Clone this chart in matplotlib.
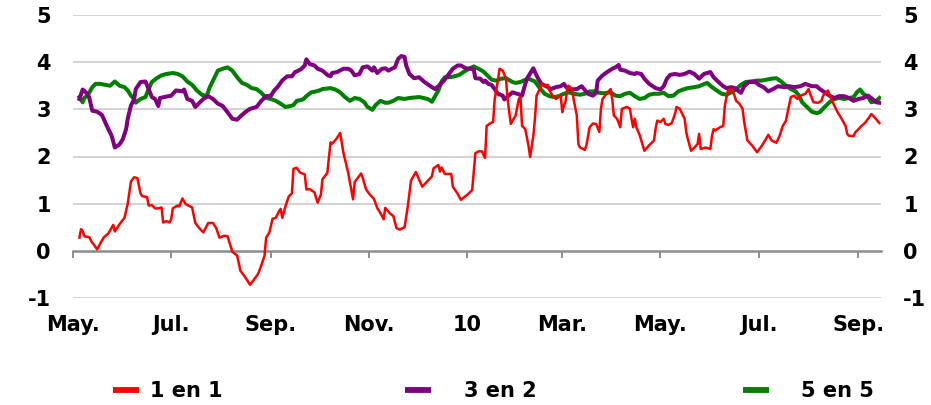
import matplotlib
matplotlib.use("Agg")
import matplotlib.pyplot as plt
from matplotlib.lines import Line2D
import pandas as pd

plt.rcParams["font.family"] = ["DejaVu Sans"]
plt.rcParams["font.weight"] = "bold"
plt.rcParams["axes.unicode_minus"] = False

# ---- data -------------------------------------------------------------
red_dates = [
    "2009-05-05", "2009-05-06", "2009-05-07", "2009-05-08", "2009-05-11", "2009-05-13", "2009-05-14",
    "2009-05-16", "2009-05-18", "2009-05-20", "2009-05-23", "2009-05-26", "2009-05-27", "2009-05-30",
    "2009-06-02", "2009-06-04", "2009-06-06", "2009-06-08", "2009-06-10", "2009-06-12", "2009-06-13",
    "2009-06-16", "2009-06-17", "2009-06-19", "2009-06-21", "2009-06-23", "2009-06-25", "2009-06-26",
    "2009-06-28", "2009-06-30", "2009-07-01", "2009-07-02", "2009-07-05", "2009-07-06", "2009-07-08",
    "2009-07-10", "2009-07-14", "2009-07-16", "2009-07-19", "2009-07-21", "2009-07-24", "2009-07-27",
    "2009-07-29", "2009-07-31", "2009-08-03", "2009-08-05", "2009-08-08", "2009-08-11", "2009-08-13",
    "2009-08-16", "2009-08-19", "2009-08-21", "2009-08-24", "2009-08-26", "2009-08-28", "2009-08-29",
    "2009-08-31", "2009-09-02", "2009-09-04", "2009-09-06", "2009-09-07", "2009-09-08", "2009-09-10",
    "2009-09-12", "2009-09-14", "2009-09-15", "2009-09-17", "2009-09-19", "2009-09-22", "2009-09-23",
    "2009-09-25", "2009-09-28", "2009-09-30", "2009-10-02", "2009-10-03", "2009-10-06", "2009-10-08",
    "2009-10-09", "2009-10-12", "2009-10-14", "2009-10-16", "2009-10-19", "2009-10-22", "2009-10-23",
    "2009-10-27", "2009-10-28", "2009-10-30", "2009-11-01", "2009-11-04", "2009-11-06", "2009-11-08",
    "2009-11-10", "2009-11-11", "2009-11-14", "2009-11-16", "2009-11-18", "2009-11-20", "2009-11-23",
    "2009-11-25", "2009-11-27", "2009-11-30", "2009-12-04", "2009-12-07", "2009-12-10", "2009-12-11",
    "2009-12-14", "2009-12-15", "2009-12-16", "2009-12-18", "2009-12-22", "2009-12-23", "2009-12-26",
    "2009-12-28", "2010-01-01", "2010-01-04", "2010-01-06", "2010-01-08", "2010-01-10", "2010-01-12",
    "2010-01-13", "2010-01-16", "2010-01-17", "2010-01-18", "2010-01-20", "2010-01-21", "2010-01-23",
    "2010-01-25", "2010-01-26", "2010-01-28", "2010-01-31", "2010-02-02", "2010-02-03", "2010-02-04",
    "2010-02-06", "2010-02-08", "2010-02-09", "2010-02-11", "2010-02-12", "2010-02-13", "2010-02-15",
    "2010-02-16", "2010-02-18", "2010-02-20", "2010-02-21", "2010-02-23", "2010-02-25", "2010-02-28",
    "2010-03-01", "2010-03-02", "2010-03-03", "2010-03-04", "2010-03-05", "2010-03-07", "2010-03-08",
    "2010-03-10", "2010-03-11", "2010-03-12", "2010-03-15", "2010-03-16", "2010-03-18", "2010-03-20",
    "2010-03-22", "2010-03-24", "2010-03-25", "2010-03-26", "2010-03-29", "2010-03-31", "2010-04-01",
    "2010-04-02", "2010-04-04", "2010-04-06", "2010-04-07", "2010-04-10", "2010-04-12", "2010-04-13",
    "2010-04-14", "2010-04-15", "2010-04-16", "2010-04-18", "2010-04-21", "2010-04-24", "2010-04-27",
    "2010-04-28", "2010-04-29", "2010-05-01", "2010-05-03", "2010-05-04", "2010-05-06", "2010-05-08",
    "2010-05-10", "2010-05-11", "2010-05-13", "2010-05-16", "2010-05-17", "2010-05-18", "2010-05-20",
    "2010-05-22", "2010-05-24", "2010-05-25", "2010-05-26", "2010-05-29", "2010-06-01", "2010-06-02",
    "2010-06-03", "2010-06-04", "2010-06-07", "2010-06-09", "2010-06-10", "2010-06-11", "2010-06-12",
    "2010-06-14", "2010-06-16", "2010-06-17", "2010-06-19", "2010-06-21", "2010-06-22", "2010-06-24",
    "2010-06-27", "2010-06-30", "2010-07-03", "2010-07-05", "2010-07-07", "2010-07-09", "2010-07-12",
    "2010-07-14", "2010-07-16", "2010-07-18", "2010-07-19", "2010-07-21", "2010-07-23", "2010-07-25",
    "2010-07-27", "2010-07-30", "2010-08-01", "2010-08-02", "2010-08-04", "2010-08-07", "2010-08-09",
    "2010-08-10", "2010-08-13", "2010-08-15", "2010-08-17", "2010-08-19", "2010-08-21", "2010-08-24",
    "2010-08-25", "2010-08-26", "2010-08-29", "2010-08-30", "2010-09-01", "2010-09-03", "2010-09-05",
    "2010-09-07", "2010-09-09", "2010-09-11", "2010-09-14",
]
red_values = [
    0.28, 0.46, 0.42, 0.31, 0.29, 0.17, 0.13,
    0.03, 0.16, 0.28, 0.37, 0.55, 0.41, 0.57,
    0.70, 1.00, 1.47, 1.56, 1.54, 1.21, 1.16,
    1.14, 0.96, 0.97, 0.90, 0.90, 0.92, 0.60,
    0.63, 0.60, 0.67, 0.90, 0.96, 0.94, 1.11,
    0.99, 0.92, 0.59, 0.46, 0.39, 0.59, 0.59,
    0.48, 0.28, 0.32, 0.31, -0.02, -0.10, -0.42,
    -0.56, -0.72, -0.63, -0.49, -0.31, -0.10, 0.28,
    0.39, 0.68, 0.70, 0.84, 0.89, 0.70, 0.94,
    1.15, 1.22, 1.74, 1.76, 1.66, 1.62, 1.30,
    1.31, 1.24, 1.02, 1.19, 1.52, 1.65, 2.30,
    2.27, 2.39, 2.50, 2.08, 1.65, 1.09, 1.46,
    1.64, 1.55, 1.31, 1.21, 1.10, 0.91, 0.80,
    0.67, 0.91, 0.79, 0.74, 0.48, 0.45, 0.50,
    0.94, 1.49, 1.67, 1.36, 1.47, 1.58, 1.75,
    1.82, 1.68, 1.77, 1.63, 1.63, 1.36, 1.21,
    1.08, 1.19, 1.29, 2.07, 2.11, 2.11, 1.97,
    2.65, 2.72, 2.73, 3.22, 3.61, 3.86, 3.82,
    3.65, 3.22, 2.69, 2.87, 3.22, 3.26, 2.65,
    2.58, 2.23, 1.99, 2.44, 2.80, 3.29, 3.43,
    3.54, 3.49, 3.52, 3.40, 3.29, 3.22, 3.29,
    2.94, 3.08, 3.16, 3.43, 3.50, 3.43, 3.22,
    2.87, 2.26, 2.19, 2.14, 2.24, 2.62, 2.70,
    2.69, 2.52, 3.01, 3.22, 3.35, 3.43, 3.22,
    2.87, 2.80, 2.62, 3.01, 3.05, 3.01, 2.80,
    2.62, 2.80, 2.62, 2.46, 2.12, 2.24, 2.34,
    2.60, 2.76, 2.73, 2.80, 2.69, 2.67, 2.71,
    2.90, 3.05, 3.01, 2.80, 2.52, 2.37, 2.12,
    2.19, 2.26, 2.48, 2.16, 2.19, 2.16, 2.44,
    2.58, 2.55, 2.62, 2.65, 3.08, 3.26, 3.40,
    3.43, 3.29, 3.18, 3.12, 3.01, 2.73, 2.34,
    2.23, 2.09, 2.23, 2.34, 2.46, 2.34, 2.29,
    2.44, 2.65, 2.76, 2.94, 3.26, 3.29, 3.22,
    3.29, 3.33, 3.43, 3.33, 3.15, 3.14, 3.18,
    3.29, 3.40, 3.22, 3.08, 2.94, 2.83, 2.65,
    2.48, 2.44, 2.43, 2.51, 2.58, 2.65, 2.71,
    2.80, 2.90, 2.83, 2.71,
]

purple_dates = [
    "2009-05-05", "2009-05-07", "2009-05-09", "2009-05-11", "2009-05-13", "2009-05-16", "2009-05-19",
    "2009-05-22", "2009-05-24", "2009-05-25", "2009-05-27", "2009-05-30", "2009-06-01", "2009-06-03",
    "2009-06-04", "2009-06-06", "2009-06-08", "2009-06-09", "2009-06-12", "2009-06-15", "2009-06-17",
    "2009-06-19", "2009-06-21", "2009-06-23", "2009-06-24", "2009-06-28", "2009-07-01", "2009-07-04",
    "2009-07-08", "2009-07-09", "2009-07-11", "2009-07-14", "2009-07-16", "2009-07-18", "2009-07-21",
    "2009-07-24", "2009-07-27", "2009-07-30", "2009-08-02", "2009-08-05", "2009-08-08", "2009-08-11",
    "2009-08-13", "2009-08-16", "2009-08-19", "2009-08-23", "2009-08-26", "2009-08-29", "2009-09-01",
    "2009-09-03", "2009-09-05", "2009-09-08", "2009-09-11", "2009-09-14", "2009-09-16", "2009-09-18",
    "2009-09-20", "2009-09-22", "2009-09-23", "2009-09-25", "2009-09-28", "2009-09-30", "2009-10-03",
    "2009-10-06", "2009-10-08", "2009-10-09", "2009-10-12", "2009-10-16", "2009-10-19", "2009-10-21",
    "2009-10-23", "2009-10-26", "2009-10-28", "2009-10-31", "2009-11-03", "2009-11-04", "2009-11-06",
    "2009-11-09", "2009-11-11", "2009-11-13", "2009-11-15", "2009-11-17", "2009-11-19", "2009-11-21",
    "2009-11-23", "2009-11-24", "2009-11-26", "2009-11-29", "2009-12-02", "2009-12-05", "2009-12-07",
    "2009-12-10", "2009-12-12", "2009-12-14", "2009-12-17", "2009-12-19", "2009-12-23", "2009-12-26",
    "2009-12-28", "2009-12-31", "2010-01-03", "2010-01-05", "2010-01-06", "2010-01-09", "2010-01-11",
    "2010-01-12", "2010-01-14", "2010-01-16", "2010-01-18", "2010-01-20", "2010-01-23", "2010-01-24",
    "2010-01-28", "2010-01-29", "2010-02-01", "2010-02-04", "2010-02-05", "2010-02-07", "2010-02-11",
    "2010-02-12", "2010-02-14", "2010-02-16", "2010-02-19", "2010-02-22", "2010-02-25", "2010-02-28",
    "2010-03-02", "2010-03-04", "2010-03-06", "2010-03-10", "2010-03-13", "2010-03-14", "2010-03-17",
    "2010-03-20", "2010-03-22", "2010-03-23", "2010-03-26", "2010-03-28", "2010-04-01", "2010-04-03",
    "2010-04-05", "2010-04-06", "2010-04-09", "2010-04-12", "2010-04-15", "2010-04-16", "2010-04-19",
    "2010-04-21", "2010-04-24", "2010-04-28", "2010-05-01", "2010-05-03", "2010-05-05", "2010-05-07",
    "2010-05-10", "2010-05-13", "2010-05-16", "2010-05-19", "2010-05-22", "2010-05-25", "2010-05-28",
    "2010-06-01", "2010-06-03", "2010-06-06", "2010-06-09", "2010-06-11", "2010-06-14", "2010-06-16",
    "2010-06-18", "2010-06-20", "2010-06-22", "2010-06-25", "2010-06-29", "2010-07-01", "2010-07-04",
    "2010-07-07", "2010-07-10", "2010-07-13", "2010-07-17", "2010-07-20", "2010-07-23", "2010-07-27",
    "2010-07-30", "2010-08-03", "2010-08-06", "2010-08-08", "2010-08-11", "2010-08-14", "2010-08-17",
    "2010-08-20", "2010-08-23", "2010-08-26", "2010-08-29", "2010-09-01", "2010-09-04", "2010-09-07",
    "2010-09-10", "2010-09-12", "2010-09-14",
]
purple_values = [
    3.22, 3.42, 3.36, 3.26, 2.97, 2.95, 2.88,
    2.65, 2.51, 2.44, 2.19, 2.26, 2.37, 2.58,
    2.80, 3.08, 3.22, 3.43, 3.58, 3.59, 3.43,
    3.26, 3.22, 3.07, 3.24, 3.27, 3.29, 3.40,
    3.38, 3.42, 3.22, 3.18, 3.05, 3.12, 3.22,
    3.28, 3.22, 3.12, 3.07, 2.94, 2.80, 2.78,
    2.85, 2.94, 3.01, 3.05, 3.18, 3.28, 3.29,
    3.40, 3.47, 3.61, 3.70, 3.70, 3.79, 3.82,
    3.86, 3.93, 4.06, 3.96, 3.93, 3.86, 3.82,
    3.73, 3.70, 3.77, 3.79, 3.86, 3.86, 3.82,
    3.72, 3.75, 3.89, 3.91, 3.82, 3.89, 3.77,
    3.86, 3.87, 3.82, 3.86, 3.89, 4.07, 4.13,
    4.11, 3.93, 3.75, 3.66, 3.68, 3.59, 3.54,
    3.47, 3.43, 3.49, 3.59, 3.68, 3.86, 3.93,
    3.93, 3.87, 3.86, 3.84, 3.66, 3.65, 3.58,
    3.61, 3.54, 3.52, 3.43, 3.33, 3.29, 3.21,
    3.33, 3.36, 3.33, 3.29, 3.42, 3.65, 3.87,
    3.79, 3.65, 3.54, 3.49, 3.43, 3.47, 3.49,
    3.54, 3.45, 3.42, 3.43, 3.49, 3.45, 3.33,
    3.29, 3.35, 3.61, 3.72, 3.77, 3.86, 3.89,
    3.94, 3.84, 3.82, 3.77, 3.75, 3.77, 3.75,
    3.65, 3.54, 3.45, 3.42, 3.49, 3.65, 3.73,
    3.75, 3.73, 3.75, 3.80, 3.75, 3.65, 3.75,
    3.79, 3.68, 3.58, 3.49, 3.45, 3.47, 3.45,
    3.40, 3.35, 3.49, 3.58, 3.58, 3.52, 3.47,
    3.38, 3.43, 3.49, 3.47, 3.49, 3.47, 3.49,
    3.54, 3.49, 3.49, 3.43, 3.36, 3.29, 3.24,
    3.28, 3.28, 3.24, 3.18, 3.22, 3.24, 3.29,
    3.21, 3.15, 3.14,
]

green_dates = [
    "2009-05-05", "2009-05-07", "2009-05-08", "2009-05-10", "2009-05-13", "2009-05-15", "2009-05-18",
    "2009-05-21", "2009-05-24", "2009-05-27", "2009-05-30", "2009-06-02", "2009-06-04", "2009-06-06",
    "2009-06-08", "2009-06-09", "2009-06-12", "2009-06-15", "2009-06-17", "2009-06-19", "2009-06-22",
    "2009-06-25", "2009-06-28", "2009-07-02", "2009-07-05", "2009-07-08", "2009-07-11", "2009-07-14",
    "2009-07-17", "2009-07-20", "2009-07-23", "2009-07-25", "2009-07-28", "2009-07-30", "2009-08-02",
    "2009-08-05", "2009-08-08", "2009-08-11", "2009-08-14", "2009-08-17", "2009-08-20", "2009-08-23",
    "2009-08-26", "2009-08-29", "2009-09-01", "2009-09-04", "2009-09-07", "2009-09-10", "2009-09-13",
    "2009-09-15", "2009-09-17", "2009-09-21", "2009-09-23", "2009-09-26", "2009-09-29", "2009-10-01",
    "2009-10-03", "2009-10-08", "2009-10-11", "2009-10-14", "2009-10-17", "2009-10-20", "2009-10-23",
    "2009-10-26", "2009-10-29", "2009-10-31", "2009-11-03", "2009-11-05", "2009-11-08", "2009-11-11",
    "2009-11-13", "2009-11-16", "2009-11-19", "2009-11-23", "2009-11-26", "2009-11-29", "2009-12-02",
    "2009-12-05", "2009-12-08", "2009-12-10", "2009-12-12", "2009-12-14", "2009-12-16", "2009-12-18",
    "2009-12-21", "2009-12-24", "2009-12-27", "2009-12-30", "2010-01-02", "2010-01-05", "2010-01-08",
    "2010-01-11", "2010-01-14", "2010-01-16", "2010-01-19", "2010-01-22", "2010-01-25", "2010-01-29",
    "2010-01-31", "2010-02-03", "2010-02-05", "2010-02-08", "2010-02-12", "2010-02-15", "2010-02-18",
    "2010-02-21", "2010-02-24", "2010-02-27", "2010-03-02", "2010-03-05", "2010-03-08", "2010-03-12",
    "2010-03-15", "2010-03-18", "2010-03-21", "2010-03-24", "2010-03-27", "2010-03-31", "2010-04-03",
    "2010-04-06", "2010-04-09", "2010-04-12", "2010-04-15", "2010-04-18", "2010-04-21", "2010-04-24",
    "2010-04-27", "2010-04-30", "2010-05-03", "2010-05-06", "2010-05-09", "2010-05-12", "2010-05-15",
    "2010-05-18", "2010-05-22", "2010-05-25", "2010-05-27", "2010-05-30", "2010-06-02", "2010-06-05",
    "2010-06-08", "2010-06-11", "2010-06-14", "2010-06-17", "2010-06-20", "2010-06-23", "2010-06-26",
    "2010-06-30", "2010-07-03", "2010-07-06", "2010-07-09", "2010-07-12", "2010-07-15", "2010-07-18",
    "2010-07-21", "2010-07-24", "2010-07-26", "2010-07-28", "2010-07-31", "2010-08-03", "2010-08-06",
    "2010-08-08", "2010-08-11", "2010-08-14", "2010-08-17", "2010-08-20", "2010-08-23", "2010-08-26",
    "2010-08-29", "2010-08-31", "2010-09-02", "2010-09-04", "2010-09-07", "2010-09-09", "2010-09-12",
    "2010-09-14",
]
green_values = [
    3.26, 3.15, 3.24, 3.29, 3.47, 3.54, 3.54,
    3.52, 3.50, 3.59, 3.50, 3.47, 3.40, 3.29,
    3.22, 3.14, 3.22, 3.26, 3.43, 3.58, 3.66,
    3.72, 3.75, 3.77, 3.75, 3.70, 3.59, 3.52,
    3.40, 3.31, 3.28, 3.47, 3.68, 3.82, 3.86,
    3.89, 3.82, 3.68, 3.56, 3.52, 3.45, 3.43,
    3.35, 3.24, 3.22, 3.18, 3.12, 3.05, 3.07,
    3.09, 3.18, 3.21, 3.28, 3.36, 3.38, 3.40,
    3.43, 3.45, 3.42, 3.36, 3.26, 3.18, 3.24,
    3.22, 3.15, 3.05, 2.99, 3.09, 3.18, 3.14,
    3.14, 3.18, 3.24, 3.22, 3.24, 3.25, 3.26,
    3.24, 3.21, 3.16, 3.28, 3.40, 3.59, 3.68,
    3.68, 3.70, 3.73, 3.80, 3.86, 3.91, 3.86,
    3.80, 3.70, 3.63, 3.61, 3.65, 3.66, 3.58,
    3.56, 3.58, 3.61, 3.65, 3.59, 3.45, 3.33,
    3.28, 3.26, 3.28, 3.33, 3.36, 3.33, 3.31,
    3.33, 3.38, 3.38, 3.35, 3.34, 3.36, 3.29,
    3.28, 3.33, 3.35, 3.28, 3.22, 3.24, 3.31,
    3.33, 3.33, 3.35, 3.28, 3.29, 3.38, 3.42,
    3.45, 3.47, 3.49, 3.52, 3.56, 3.47, 3.40,
    3.33, 3.31, 3.36, 3.43, 3.52, 3.58, 3.59,
    3.61, 3.61, 3.63, 3.65, 3.66, 3.59, 3.50,
    3.43, 3.38, 3.29, 3.15, 3.05, 2.95, 2.92,
    2.94, 3.05, 3.15, 3.22, 3.24, 3.22, 3.24,
    3.26, 3.36, 3.42, 3.33, 3.26, 3.15, 3.18,
    3.24,
]

series_names = ["1 en 1", "3 en 2", "5 en 5"]
series_colors = ["#FF0000", "#800080", "#008000"]

tick_dates = ["2009-05-01", "2009-07-01", "2009-09-01", "2009-11-01", "2010-01-01",
              "2010-03-01", "2010-05-01", "2010-07-01", "2010-09-01"]
tick_labels = ["May.", "Jul.", "Sep.", "Nov.", "10", "Mar.", "May.", "Jul.", "Sep."]
y_ticks = [-1, 0, 1, 2, 3, 4, 5]
x_start, x_end = "2009-05-01", "2010-09-15"

# ---- figure -----------------------------------------------------------
W, H = 931, 405
fig = plt.figure(figsize=(W / 100, H / 100), dpi=100)
ax = fig.add_axes([73 / W, 1 - 298 / H, (881 - 73) / W, (298 - 15) / H])

grid_color = "#C8C8C8"
axis_color = "#8C8C8C"
for y in y_ticks:
    if y != 0:
        ax.axhline(y, color=grid_color, lw=1.1, zorder=0)

ax.plot(pd.to_datetime(green_dates), green_values, color=series_colors[2], lw=2.9,
        solid_joinstyle="round", zorder=2)
ax.plot(pd.to_datetime(purple_dates), purple_values, color=series_colors[1], lw=2.9,
        solid_joinstyle="round", zorder=3)
ax.plot(pd.to_datetime(red_dates), red_values, color=series_colors[0], lw=1.8,
        solid_joinstyle="round", zorder=4)

ax.set_xlim(pd.Timestamp(x_start), pd.Timestamp(x_end))
ax.set_ylim(-1, 5)

for s in ax.spines.values():
    s.set_visible(False)

ax.set_yticks(y_ticks)
ax.tick_params(axis="y", length=0, pad=16, labelsize=15, labelright=True,
               labelleft=True, labelcolor="black")
ax.set_xticks(pd.to_datetime(tick_dates))
ax.set_xticklabels(tick_labels)
ax.tick_params(axis="x", length=0, pad=12, labelsize=15)

# zero line with month ticks
zero_axis = ax.secondary_xaxis(1 / 6)
zero_axis.set_xticks(pd.to_datetime(tick_dates))
zero_axis.tick_params(axis="x", direction="out", length=5, width=1.4, color=axis_color,
                      labelbottom=False, labeltop=False)
zero_axis.spines["bottom"].set_color(axis_color)
zero_axis.spines["bottom"].set_linewidth(1.8)
zero_axis.spines["top"].set_visible(False)

# legend, one entry per series
legend_x = [113, 405, 743]
text_pads = [0.52, 1.57, 1.52]
for name, color, lx, tp in zip(series_names, series_colors, legend_x, text_pads):
    handle = Line2D([0], [0], color=color, lw=4.2, solid_capstyle="butt")
    fig.legend(handles=[handle], labels=[name], loc="center left",
               bbox_to_anchor=(lx / W, 1 - 391 / H), frameon=False,
               borderpad=0, borderaxespad=0, handlelength=1.25, handletextpad=tp,
               prop={"size": 15, "weight": "bold"})

fig.savefig("out.png", dpi=100)
